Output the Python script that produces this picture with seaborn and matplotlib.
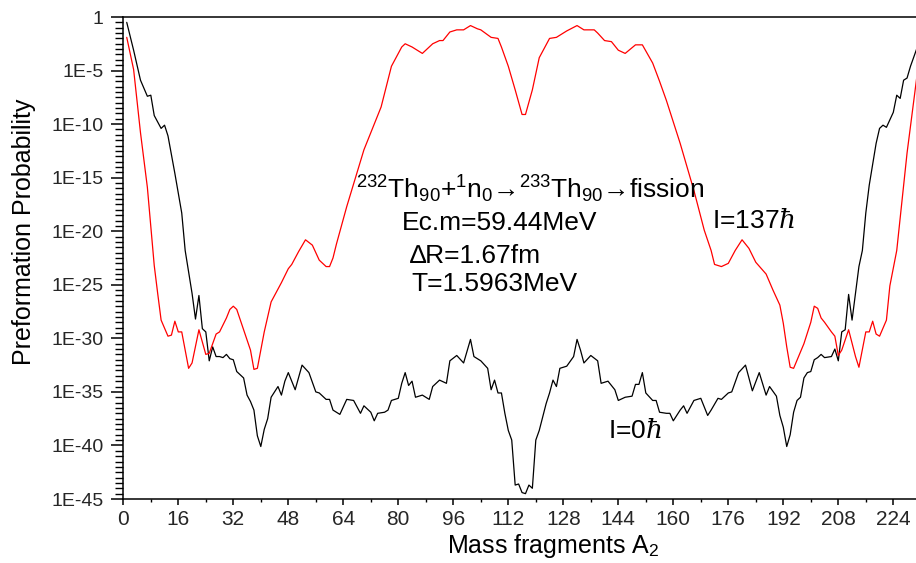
import numpy as np
import pandas as pd
import matplotlib
matplotlib.use("Agg")
import matplotlib.pyplot as plt
import seaborn as sns
from matplotlib.ticker import FixedLocator, FixedFormatter, NullFormatter, MultipleLocator

# ---------------- data ----------------
# mass fragment A2 and log10(preformation probability), I = 0 hbar
A_I0 = [1, 3, 5, 7, 8, 9, 11, 12, 13, 15, 17, 18, 20, 21, 22, 23, 24, 25, 26, 27,
        28, 29, 30, 31, 32, 33, 34, 35, 36, 37, 38, 39, 40, 41, 42, 43, 45, 46, 47, 48,
        50, 52, 54, 56, 57, 59, 60, 61, 63, 65, 67, 69, 70, 72, 73, 74, 76, 77, 78, 80,
        81, 82, 83, 84, 85, 87, 89, 90, 92, 94, 95, 97, 99, 101, 102, 104, 106, 107, 108, 109,
        110, 111, 112, 113, 114, 115, 116, 117, 118, 119, 120, 121, 123, 124, 125, 126, 127, 129, 131, 132,
        133, 134, 136, 138, 139, 141, 143, 144, 146, 148, 149, 150, 151, 152, 154, 155, 156, 158, 159, 160,
        162, 163, 164, 166, 168, 170, 171, 173, 174, 176, 177, 179, 181, 183, 185, 187, 188, 190, 191, 192,
        193, 194, 195, 196, 197, 198, 199, 200, 201, 202, 203, 204, 206, 207, 208, 209, 210, 211, 212, 213,
        214, 215, 216, 217, 219, 220, 221, 222, 224, 225, 226, 227, 228, 229, 231]
logP_I0 = [-0.5, -3.1, -5.9, -7.4, -7.3, -9.2, -10.4, -10.1, -11.1, -14.6, -18.3, -21.8, -25.8, -28.2, -26.0, -29.1, -29.4, -32.1, -30.8, -31.7,
           -31.7, -31.8, -31.5, -31.9, -32.0, -33.1, -33.4, -33.7, -35.3, -35.9, -36.7, -39.1, -40.1, -38.5, -37.5, -35.5, -34.5, -35.3, -34.0, -33.2,
           -34.8, -32.5, -33.2, -35.0, -35.1, -35.7, -35.7, -36.7, -37.1, -35.7, -35.8, -37.0, -36.3, -36.9, -37.7, -37.0, -36.9, -36.7, -35.8, -35.6,
           -34.2, -33.2, -34.4, -34.0, -35.5, -35.3, -35.7, -34.5, -33.9, -34.2, -32.1, -31.6, -32.3, -30.1, -31.7, -32.1, -32.8, -34.8, -33.9, -35.1,
           -35.1, -37.0, -38.6, -39.5, -43.7, -43.6, -44.4, -44.5, -43.7, -44.0, -39.5, -38.6, -36.1, -35.1, -33.9, -34.5, -32.8, -32.6, -31.7, -30.1,
           -31.1, -32.3, -31.6, -32.1, -34.2, -34.0, -34.8, -35.8, -35.5, -35.4, -34.3, -34.3, -33.2, -35.1, -35.8, -35.8, -36.9, -37.0, -37.0, -37.7,
           -36.7, -36.3, -37.0, -35.8, -35.6, -37.2, -36.7, -35.6, -35.7, -35.1, -35.0, -33.2, -32.5, -34.9, -33.2, -35.3, -34.5, -35.4, -37.2, -38.3,
           -40.1, -39.0, -36.9, -35.8, -35.5, -33.7, -33.2, -33.1, -32.0, -31.8, -31.5, -31.8, -31.7, -31.0, -32.1, -29.4, -29.2, -25.9, -28.3, -25.8,
           -23.3, -21.8, -18.3, -15.7, -11.8, -10.4, -10.1, -10.3, -8.9, -7.3, -7.6, -5.9, -5.7, -4.6, -2.8]

# I = 137 hbar
A_I137 = [1, 3, 5, 7, 9, 10, 11, 13, 14, 15, 16, 17, 19, 20, 22, 24, 25, 27, 28, 30,
          31, 32, 33, 35, 37, 38, 39, 41, 43, 46, 48, 49, 51, 53, 55, 57, 59, 60, 61, 62,
          65, 70, 75, 78, 81, 82, 84, 87, 90, 92, 93, 95, 97, 99, 101, 103, 104, 107, 109, 110,
          112, 114, 116, 117, 119, 121, 124, 126, 129, 132, 134, 137, 138, 140, 142, 144, 146, 149, 151, 154,
          156, 158, 162, 166, 169, 171, 172, 174, 176, 178, 180, 182, 184, 187, 189, 191, 192, 193, 194, 195,
          198, 200, 201, 202, 203, 204, 206, 207, 208, 209, 211, 213, 214, 216, 217, 218, 219, 220, 222, 223,
          225, 228, 231]
logP_I137 = [-1.9, -4.9, -10.8, -15.9, -23.2, -25.8, -28.3, -29.8, -29.7, -28.4, -29.4, -29.4, -32.8, -32.3, -29.2, -31.5, -31.4, -29.6, -29.4, -28.1,
             -27.3, -27.0, -27.3, -29.2, -31.1, -32.9, -32.8, -29.4, -26.6, -24.8, -23.5, -23.1, -21.9, -20.8, -21.3, -22.7, -23.3, -23.3, -22.5, -21.2,
             -17.7, -12.4, -8.4, -4.6, -2.8, -2.5, -2.8, -3.4, -2.5, -2.2, -2.2, -1.4, -1.2, -1.2, -0.8, -1.1, -1.2, -1.9, -2.0, -2.8,
             -4.6, -6.8, -9.1, -9.1, -6.8, -3.8, -2.0, -1.9, -1.3, -0.8, -1.2, -1.2, -1.5, -2.2, -2.3, -3.1, -3.4, -2.6, -2.6, -4.3,
             -6.0, -7.8, -11.8, -16.2, -19.9, -21.8, -23.1, -23.3, -23.0, -21.8, -20.8, -21.6, -22.9, -24.0, -25.5, -26.9, -28.6, -30.8, -32.7, -32.8,
             -30.5, -28.5, -27.0, -27.2, -28.1, -28.5, -29.4, -29.8, -31.6, -31.1, -29.2, -31.7, -32.7, -29.4, -29.4, -28.4, -29.6, -29.8, -28.3, -25.1,
             -21.8, -12.7, -5.2]

x_ticks = [0, 16, 32, 48, 64, 80, 96, 112, 128, 144, 160, 176, 192, 208, 224]
y_tick_exp = [0, -5, -10, -15, -20, -25, -30, -35, -40, -45]
y_tick_labels = ["1", "1E-5", "1E-10", "1E-15", "1E-20", "1E-25", "1E-30", "1E-35", "1E-40", "1E-45"]

# ---------------- style ----------------
sns.set_theme(style="white")
plt.rcParams["font.family"] = ["Liberation Sans", "DejaVu Sans"]
plt.rcParams["mathtext.fontset"] = "custom"
plt.rcParams["mathtext.rm"] = "Liberation Sans"
plt.rcParams["mathtext.sf"] = "Liberation Sans"
plt.rcParams["mathtext.it"] = "DejaVu Serif:italic"
plt.rcParams["mathtext.bf"] = "Liberation Sans:bold"

df = pd.concat([
    pd.DataFrame({"A": A_I0, "logP": logP_I0, "spin": "I=0"}),
    pd.DataFrame({"A": A_I137, "logP": logP_I137, "spin": "I=137"}),
], ignore_index=True)
df["P"] = 10.0 ** df["logP"]

W, H = 916, 563
fig = plt.figure(figsize=(W / 100, H / 100), dpi=100)
x0, x1, ytop, ybot = 123.3, 916.0, 17.0, 499.0
ax = fig.add_axes([x0 / W, 1 - ybot / H, (x1 - x0) / W, (ybot - ytop) / H])

sns.lineplot(data=df, x="A", y="P", hue="spin",
             palette={"I=0": "black", "I=137": "red"},
             estimator=None, sort=False, linewidth=0.9, legend=False, ax=ax)

ax.set_yscale("log")
ax.set_ylim(1e-45, 1.0)
ax.set_xlim(0, (x1 - x0) / 3.4375)

# axes/ticks
for s in ["left", "bottom", "top"]:
    ax.spines[s].set_visible(True)
    ax.spines[s].set_color("black")
    ax.spines[s].set_linewidth(1.1)
ax.spines["right"].set_visible(False)

ax.xaxis.set_major_locator(FixedLocator(x_ticks))
ax.xaxis.set_minor_locator(MultipleLocator(8))
ax.set_xticklabels([str(v) for v in x_ticks])

ax.yaxis.set_major_locator(FixedLocator([10.0 ** e for e in y_tick_exp]))
ax.yaxis.set_major_formatter(FixedFormatter(y_tick_labels))
# Origin-style minor ticks: every half decade between the 5-decade majors
ax.yaxis.set_minor_locator(FixedLocator([10.0 ** (-0.5 * k) for k in range(0, 91)]))
ax.yaxis.set_minor_formatter(NullFormatter())

ax.tick_params(axis="x", which="major", direction="out", length=4, width=1.1,
               color="black", labelsize=15, pad=4, bottom=True, top=False)
ax.tick_params(axis="x", which="minor", direction="out", length=2.5, width=1.0,
               color="black", bottom=True, top=False)
ax.tick_params(axis="y", which="major", direction="out", length=9, width=1.1,
               color="black", labelsize=14, pad=5, left=True, right=False)
ax.tick_params(axis="y", which="minor", direction="out", length=6, width=1.0,
               color="black", left=True, right=False)
ax.grid(False)

ax.set_xlabel("Mass fragments A$_2$", fontsize=18, color="black")
ax.xaxis.label.set_verticalalignment("baseline")
ax.xaxis.set_label_coords((553 - x0) / (x1 - x0), -(553 - ybot) / (ybot - ytop))
ax.set_ylabel("Preformation Probability", fontsize=18, color="black")
ax.yaxis.set_label_coords(-(x0 - 36) / (x1 - x0), (ybot - 232) / (ybot - ytop))


def ftext(px, py, s, ha="center", size=19):
    fig.text(px / W, 1 - py / H, s, ha=ha, va="baseline", fontsize=size, color="black")


ftext(530, 198, "$^{232}$Th$_{90}$+$^{1}$n$_{0}$\u2192$^{233}$Th$_{90}$\u2192fission", size=19)
ftext(500, 230, "Ec.m=59.44MeV")
ftext(475, 263, "\u2206R=1.67fm")
ftext(494, 291, "T=1.5963MeV")
ftext(712, 228, r"I=137$\hbar$", ha="left")
ftext(608, 438, r"I=0$\hbar$", ha="left")

fig.savefig("out.png", dpi=100)
